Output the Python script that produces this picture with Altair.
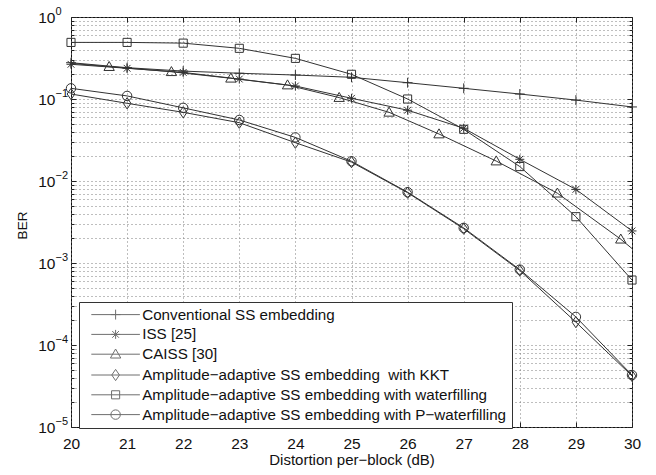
import altair as alt
import pandas as pd

FONT = "Liberation Sans"
INK = "#222222"
W, H = 561, 410

# ---------------- data ----------------
x_int = [20, 21, 22, 23, 24, 25, 26, 27, 28, 29, 30]

conventional = [0.277, 0.241, 0.219, 0.206, 0.196, 0.184, 0.158, 0.135, 0.115, 0.097, 0.080]
iss = [0.265, 0.237, 0.211, 0.175, 0.144, 0.102, 0.073, 0.044, 0.0184, 0.0079, 0.00246]
caiss_x = [20, 20.68, 21.79, 22.85, 23.86, 24.78, 25.67, 26.56, 27.58, 28.67, 29.80, 30]
caiss_y = [0.272, 0.248, 0.215, 0.179, 0.148, 0.104, 0.0688, 0.0374, 0.0175, 0.0071, 0.00195, 0.0015]
caiss_marker = [False, True, True, True, True, True, True, True, True, True, True, False]
kkt = [0.115, 0.0886, 0.0688, 0.0514, 0.0293, 0.0170, 0.0072, 0.00262, 0.00081, 0.00019, 0.000042]
waterfilling = [0.49, 0.49, 0.48, 0.415, 0.313, 0.20, 0.10, 0.0427, 0.015, 0.00367, 0.00062]
p_waterfilling = [0.135, 0.109, 0.078, 0.0555, 0.034, 0.0174, 0.0073, 0.00268, 0.00083, 0.00022, 0.000043]

names = [
    "Conventional SS embedding",
    "ISS [25]",
    "CAISS [30]",
    "Amplitude\u2212adaptive SS embedding\u00a0 with KKT",
    "Amplitude\u2212adaptive SS embedding with waterfilling",
    "Amplitude\u2212adaptive SS embedding with P\u2212waterfilling",
]

y_major = [1e-5, 1e-4, 1e-3, 1e-2, 1e-1, 1.0]
y_minor = [k * d for d in [1e-5, 1e-4, 1e-3, 1e-2, 1e-1] for k in range(2, 10)]
y_all = sorted(y_major + y_minor)
exponent_labels = ["0", "\u22121", "\u22122", "\u22123", "\u22124", "\u22125"]

# ---------------- long table ----------------
rows = []
series_xy = [
    (names[0], x_int, conventional, [True] * len(x_int)),
    (names[1], x_int, iss, [True] * len(x_int)),
    (names[2], caiss_x, caiss_y, caiss_marker),
    (names[3], x_int, kkt, [True] * len(x_int)),
    (names[4], x_int, waterfilling, [True] * len(x_int)),
    (names[5], x_int, p_waterfilling, [True] * len(x_int)),
]
for name, xs, ys, ms in series_xy:
    for xv, yv, mv in zip(xs, ys, ms):
        rows.append({"series": name, "x": xv, "y": yv, "marker": mv})
df = pd.DataFrame(rows)

# marker glyphs (unit space, scaled by sqrt(size)/2)
marker_paths = [
    "M-1.1,0H1.1M0,-1.1V1.1",
    "M-1,0H1M0,-1V1M-0.75,-0.75L0.75,0.75M-0.75,0.75L0.75,-0.75",
    "M0,-1.15L1.15,0.85L-1.15,0.85Z",
    "M0,-1.25L0.85,0L0,1.25L-0.85,0Z",
    "M-0.9,-0.9H0.9V0.9H-0.9Z",
    "M1.05,0A1.05,1.05,0,1,1,-1.05,0A1.05,1.05,0,1,1,1.05,0",
]
LINE = "M-5.4,0H5.4"
legend_paths = [LINE + p for p in marker_paths]

is_major = "abs(log(datum.value)/LN10 - round(log(datum.value)/LN10)) < 0.001"
base_expr = f"{is_major} ? '10' : ''"
exp_expr = f"{is_major} ? {exponent_labels}[-round(log(datum.value)/LN10)] : ''"

xscale = alt.Scale(domain=[20, 30], nice=False, zero=False)
yscale = alt.Scale(type="log", domain=[1e-5, 1], nice=False)

GRID = "#7d7d7d"


def tick_axis(orient, values, size, offset):
    return alt.Axis(
        orient=orient, values=values, labels=False, domain=False, grid=False,
        ticks=True, tickSize=size, tickColor=INK, tickWidth=1, title=None, offset=offset,
    )


x_bottom = alt.Axis(
    orient="bottom", values=x_int, format="d", labelFlush=False,
    labelFont=FONT, labelFontSize=15.5, labelColor="#111", labelPadding=9,
    ticks=False, domain=False,
    grid=True, gridDash=[1, 3], gridColor=GRID, gridWidth=1,
    title="Distortion per\u2212block (dB)", titleFont=FONT, titleFontSize=15,
    titleFontWeight="normal", titleColor="#111", titleY=32, titleBaseline="middle",
)
y_left = alt.Axis(
    orient="left", values=y_all, labelExpr=base_expr, labelOverlap=False,
    labelFont=FONT, labelFontSize=15.5, labelColor="#111", labelPadding=16,
    ticks=False, domain=False,
    grid=True, gridDash=[1, 3], gridColor=GRID, gridWidth=1,
    title="BER", titleFont=FONT, titleFontSize=13.5, titleFontWeight="normal",
    titleColor="#111", titleX=-49, titleY=208, titleBaseline="middle", titleAngle=270,
)
y_exp = alt.Axis(
    orient="left", values=y_major, labelExpr=exp_expr, labelOverlap=False,
    labelFont=FONT, labelFontSize=11, labelColor="#111", labelPadding=16,
    labelAlign="left", labelOffset=-6,
    ticks=False, domain=False, grid=False, title=None,
)

legend = alt.Legend(
    title=None, orient="none", legendX=8, legendY=285,
    padding=5, strokeColor="#333", fillColor="white", cornerRadius=0,
    labelFont=FONT, labelFontSize=15.2, labelColor="#111", labelLimit=0,
    symbolSize=81, symbolOffset=24, labelOffset=19, rowPadding=3.8,
    symbolStrokeWidth=1, symbolStrokeColor="#333", symbolFillColor="transparent",
)

base = alt.Chart(df)

# A: curves, with labelled axes and grids
lines = base.mark_line(color="#333333", strokeWidth=1).encode(
    x=alt.X("x:Q", scale=xscale, axis=x_bottom),
    y=alt.Y("y:Q", scale=yscale, axis=y_left),
    detail="series:N",
)

# B: markers; carries inward ticks on the bottom and left edges
points = base.transform_filter(alt.datum.marker).mark_point(
    filled=False, color="#333333", strokeWidth=1, size=81, opacity=1
).encode(
    x=alt.X("x:Q", scale=xscale, axis=tick_axis("top", x_int, 5, -H)),
    y=alt.Y("y:Q", scale=yscale, axis=tick_axis("right", y_major, 5, -W)),
    shape=alt.Shape("series:N", scale=alt.Scale(domain=names, range=marker_paths), legend=None),
)

# C: invisible copy; inward ticks on top and right edges
ghost_c = base.mark_line(opacity=0).encode(
    x=alt.X("x:Q", scale=xscale, axis=tick_axis("bottom", x_int, 5, -H)),
    y=alt.Y("y:Q", scale=yscale, axis=tick_axis("left", y_major, 5, -W)),
    detail="series:N",
)

# D: legend carrier (draws nothing); minor inward ticks on the left edge
legend_layer = base.transform_filter("false").mark_point(
    filled=False, color="#333333", strokeWidth=1, size=81
).encode(
    x=alt.X("x:Q", scale=xscale, axis=None),
    y=alt.Y("y:Q", scale=yscale, axis=tick_axis("right", y_minor, 3, -W)),
    shape=alt.Shape("series:N", scale=alt.Scale(domain=names, range=legend_paths), legend=legend),
)

# E: invisible copy; minor inward ticks on the right edge
ghost_e = base.mark_line(opacity=0).encode(
    x=alt.X("x:Q", scale=xscale, axis=None),
    y=alt.Y("y:Q", scale=yscale, axis=tick_axis("left", y_minor, 3, -W)),
    detail="series:N",
)

# F: invisible copy; carries the superscript exponents of the y labels
ghost_f = base.mark_line(opacity=0).encode(
    x=alt.X("x:Q", scale=xscale, axis=None),
    y=alt.Y("y:Q", scale=yscale, axis=y_exp),
    detail="series:N",
)

chart = alt.layer(lines, points, ghost_c, legend_layer, ghost_e, ghost_f).resolve_axis(
    x="independent", y="independent"
).resolve_scale(shape="independent").properties(
    width=W, height=H,
    padding={"left": 71, "top": 17, "right": 24, "bottom": 48},
    autosize=alt.AutoSizeParams(type="none"),
    background="white",
).configure_view(stroke="#111111", strokeWidth=1)

chart.save("out.html", embed_options={"renderer": "svg", "actions": False})
